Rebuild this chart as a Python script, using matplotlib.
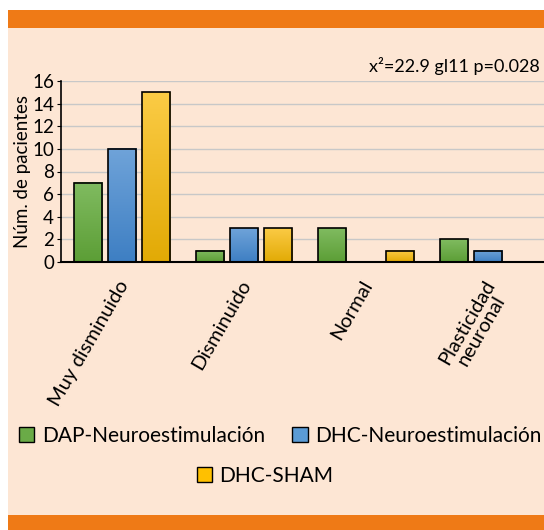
import numpy as np
import matplotlib
matplotlib.use('Agg')
import matplotlib.pyplot as plt
from matplotlib.patches import Rectangle, Patch
from matplotlib.transforms import ScaledTranslation

categories = ['Muy disminuido', 'Disminuido', 'Normal', 'Plasticidad\nneuronal']
series = ['DAP-Neuroestimulación', 'DHC-Neuroestimulación', 'DHC-SHAM']
dap = [7, 1, 3, 2]
dhc = [10, 3, 0, 1]
sham = [15, 3, 1, 0]
values = [dap, dhc, sham]
# top / bottom colours of each bar gradient
grads = [('#80bb60', '#5c9e36'), ('#6fa3d9', '#3e7fc3'), ('#fbcb45', '#e2aa05')]
flat = ['#6aab47', '#5b9bd5', '#ffc000']

beige = '#fde6d4'
orange = '#ef7a16'

plt.rcParams['font.family'] = ['Lato', 'DejaVu Sans']

fig = plt.figure(figsize=(5.44, 5.30), dpi=100, facecolor='white')
W, H = 544, 530
fig.patches.append(Rectangle((8 / W, 15 / H), 1, 487 / H, transform=fig.transFigure,
                             facecolor=beige, edgecolor='none', zorder=-2))
fig.patches.append(Rectangle((8 / W, 502 / H), 1, 18 / H, transform=fig.transFigure,
                             facecolor=orange, edgecolor='none', zorder=-2))
fig.patches.append(Rectangle((8 / W, 0), 1, 15 / H, transform=fig.transFigure,
                             facecolor=orange, edgecolor='none', zorder=-2))

ax = fig.add_axes([61 / W, 1 - 262 / H, 483 / W, 181 / H])
ax.set_facecolor(beige)

x = np.arange(len(categories))
width = 0.23
step = 0.279
grad = np.linspace(1, 0, 64).reshape(-1, 1)
for i, vals in enumerate(values):
    pos = x + (i - 1) * step
    bars = ax.bar(pos, vals, width, facecolor='none', edgecolor='black', linewidth=1.2,
                  zorder=3)
    cmap = matplotlib.colors.LinearSegmentedColormap.from_list('g', [grads[i][1], grads[i][0]])
    for b in bars:
        h = b.get_height()
        if h <= 0:
            continue
        x0 = b.get_x()
        ax.imshow(grad, cmap=cmap, extent=(x0, x0 + width, 0, h), aspect='auto',
                  zorder=2, interpolation='bicubic')

ax.set_xlim(-0.5, 483 / 122 - 0.5)
ax.set_ylim(0, 16)
ax.set_yticks(range(0, 17, 2))
ax.yaxis.grid(True, color='#c8c8c8', linewidth=1)
ax.set_axisbelow(True)
for s in ['top', 'right']:
    ax.spines[s].set_visible(False)
ax.spines['left'].set_linewidth(1.2)
ax.spines['bottom'].set_linewidth(1.5)
ax.tick_params(axis='y', length=3, labelsize=13.5, pad=2)
ax.tick_params(axis='x', length=0, labelsize=14.5, pad=11)
ax.set_xticks(x)
ax.set_xticklabels(categories, rotation=60, ha='right', va='top', rotation_mode='anchor',
                   multialignment='center', linespacing=0.95)
shift = ScaledTranslation(-5 / 100, 0, fig.dpi_scale_trans)
for lab in ax.get_xticklabels():
    lab.set_transform(lab.get_transform() + shift)
ax.set_ylabel('Núm. de pacientes', fontsize=13.5, labelpad=1)

fig.text(540 / W, 1 - 66 / H, 'x²=22.9 gl11 p=0.028', ha='right', va='center', fontsize=13)

handles = [Patch(facecolor=flat[i], edgecolor='black', linewidth=1) for i in range(3)]
fig.legend(handles[:2], series[:2], loc='center', bbox_to_anchor=(280 / W, 1 - 436 / H),
           ncol=2, frameon=False, fontsize=15, handlelength=0.75, handleheight=0.75,
           handletextpad=0.35, columnspacing=1.3)
fig.legend(handles[2:], series[2:], loc='center', bbox_to_anchor=(265 / W, 1 - 476 / H),
           frameon=False, fontsize=15, handlelength=0.75, handleheight=0.75,
           handletextpad=0.35)

fig.savefig('out.png', dpi=100, facecolor='white')
